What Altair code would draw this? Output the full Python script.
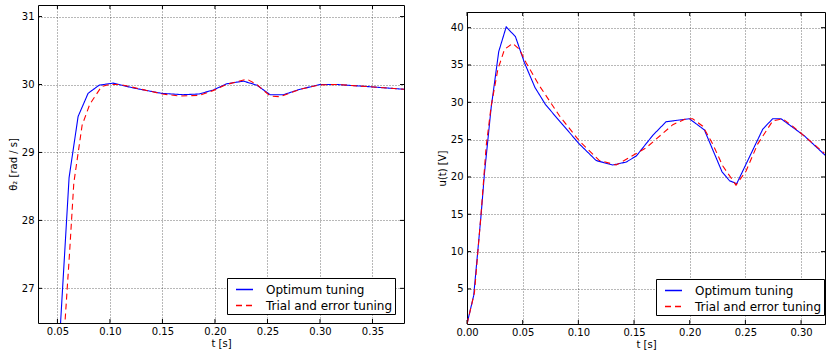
import altair as alt
import pandas as pd

series = ["Optimum tuning", "Trial and error tuning"]

# ---- left panel: theta_2 ----
left_t_opt = [0.0515, 0.0611, 0.0697, 0.0792, 0.0897, 0.103, 0.122, 0.149, 0.1698, 0.185,
              0.1985, 0.2112, 0.2271, 0.2334, 0.2399, 0.2525, 0.2652, 0.2811, 0.3002, 0.3162,
              0.3448, 0.380]
left_v_opt = [26.1, 28.63, 29.53, 29.87, 29.99, 30.02, 29.95, 29.87, 29.85, 29.86,
              29.92, 30.01, 30.05, 30.02, 29.99, 29.85, 29.85, 29.93, 30.0, 30.0,
              29.97, 29.93]
left_t_trial = [0.0555, 0.0617, 0.0656, 0.0735, 0.0808, 0.092, 0.0999, 0.110, 0.130, 0.150,
                0.1667, 0.185, 0.198, 0.2112, 0.2303, 0.2399, 0.2525, 0.2621, 0.2811, 0.3002,
                0.3162, 0.3448, 0.380]
left_v_trial = [26.1, 27.56, 28.55, 29.4, 29.71, 29.97, 30.0, 30.0, 29.93, 29.86,
                29.83, 29.84, 29.91, 30.0, 30.08, 30.0, 29.83, 29.82, 29.93, 29.995,
                30.0, 29.97, 29.93]
left_xticks = [0.05, 0.10, 0.15, 0.20, 0.25, 0.30, 0.35]
left_yticks = [27, 28, 29, 30, 31]

# ---- right panel: u(t) ----
right_t_opt = [0.0, 0.006, 0.0097, 0.0127, 0.0157, 0.0217, 0.0285, 0.0352, 0.0435, 0.0516,
               0.061, 0.0705, 0.083, 0.101, 0.116, 0.131, 0.143, 0.152, 0.167, 0.1788,
               0.1997, 0.2132, 0.229, 0.2357, 0.2422, 0.2656, 0.2745, 0.282, 0.303, 0.3224]
right_v_opt = [0.3, 4.1, 10.1, 15.0, 20.5, 29.3, 36.8, 40.1, 38.8, 35.3,
               32.0, 29.7, 27.5, 24.4, 22.2, 21.6, 22.0, 22.8, 25.6, 27.4,
               27.8, 26.3, 20.7, 19.5, 19.1, 26.4, 27.8, 27.8, 25.5, 22.8]
right_t_trial = [0.0, 0.0067, 0.0127, 0.0172, 0.0217, 0.0277, 0.0337, 0.0411, 0.0471, 0.0531,
                 0.0651, 0.083, 0.101, 0.1189, 0.134, 0.1608, 0.1848, 0.1967, 0.2027, 0.2117,
                 0.2207, 0.2296, 0.2416, 0.2506, 0.261, 0.2745, 0.2835, 0.2924, 0.3209]
right_v_trial = [0.3, 4.5, 15.2, 24.1, 29.5, 34.4, 37.1, 37.9, 37.1, 35.3,
                 32.2, 28.2, 24.8, 22.2, 21.6, 23.9, 27.0, 27.8, 27.8, 26.8,
                 24.4, 21.5, 18.9, 20.8, 24.4, 27.5, 27.8, 26.8, 23.2]
right_xticks = [0.00, 0.05, 0.10, 0.15, 0.20, 0.25, 0.30]
right_yticks = [5, 10, 15, 20, 25, 30, 35, 40]

FONT = "DejaVu Sans"


def make_df(t1, v1, t2, v2):
    return pd.DataFrame({
        "t": t1 + t2,
        "v": v1 + v2,
        "series": [series[0]] * len(t1) + [series[1]] * len(t2),
    })


def panel(df, xdom, ydom, xticks, yticks, xfmt, ytitle, W, H, lx, ly):
    xs = alt.Scale(domain=xdom, nice=False, zero=False)
    ys = alt.Scale(domain=ydom, nice=False, zero=False)
    xax = alt.Axis(values=xticks, format=xfmt, title="t [s]")
    yax = alt.Axis(values=yticks, format="d", title=ytitle)
    leg = alt.Legend(
        orient="none", legendX=lx, legendY=ly, title=None,
        symbolType="stroke", symbolSize=289, symbolStrokeWidth=1.5,
        symbolOffset=6, labelOffset=12, labelFont=FONT, labelFontSize=12,
        labelColor="black", padding=2, strokeColor="black", fillColor="white",
        rowPadding=0, labelLimit=400, cornerRadius=0,
    )
    lines = alt.Chart(df).mark_line(clip=True, strokeWidth=1.1).encode(
        x=alt.X("t:Q", scale=xs, axis=xax),
        y=alt.Y("v:Q", scale=ys, axis=yax),
        color=alt.Color("series:N", scale=alt.Scale(domain=series, range=["#0000ff", "#ff0000"]), legend=leg),
        strokeDash=alt.StrokeDash("series:N", scale=alt.Scale(domain=series, range=[[1, 0], [6, 4]]), legend=leg),
        order=alt.Order("t:Q"),
    )
    xt = pd.DataFrame({"t": xticks})
    yt = pd.DataFrame({"v": yticks})
    xb = alt.Chart(xt).mark_rule(color="black", strokeWidth=1).encode(
        x=alt.X("t:Q", scale=xs, axis=xax), y=alt.value(H), y2=alt.value(H - 4))
    xtop = alt.Chart(xt).mark_rule(color="black", strokeWidth=1).encode(
        x=alt.X("t:Q", scale=xs, axis=xax), y=alt.value(0), y2=alt.value(4))
    yl = alt.Chart(yt).mark_rule(color="black", strokeWidth=1).encode(
        y=alt.Y("v:Q", scale=ys, axis=yax), x=alt.value(0), x2=alt.value(4))
    yr = alt.Chart(yt).mark_rule(color="black", strokeWidth=1).encode(
        y=alt.Y("v:Q", scale=ys, axis=yax), x=alt.value(W - 4), x2=alt.value(W))
    return alt.layer(lines, xb, xtop, yl, yr).properties(width=W, height=H)


left = panel(make_df(left_t_opt, left_v_opt, left_t_trial, left_v_trial),
             [0.0315, 0.380], [26.49, 31.17], left_xticks, left_yticks, ".2f",
             "θ₂ [rad / s]", 366, 318, 189, 273)
right = panel(make_df(right_t_opt, right_v_opt, right_t_trial, right_v_trial),
              [0.0, 0.3215], [0.3, 42.1], right_xticks, right_yticks, ".2f",
              "u(t) [V]", 358, 312, 189, 267)

# empty strip that drops the right panel slightly lower than the left one
blank = alt.Chart(pd.DataFrame({"t": [0]})).mark_rule(color="white", strokeWidth=1).encode(
    x=alt.value(1), x2=alt.value(2), y=alt.value(0)
).properties(width=358, height=1, view=alt.ViewBackground(stroke="transparent"))

right_col = alt.vconcat(blank, right, spacing=4).resolve_legend(
    color="independent", strokeDash="independent")

chart = alt.hconcat(left, right_col, spacing=31).resolve_legend(
    color="independent", strokeDash="independent"
).properties(
    padding={"left": 7, "top": 4, "right": 0, "bottom": 0}
).configure_view(
    stroke="black", strokeWidth=1
).configure_axis(
    domain=False, ticks=False, tickSize=0, labelFlush=False,
    labelFont=FONT, labelFontSize=10, labelColor="black", labelPadding=4,
    titleFont=FONT, titleFontSize=10, titleColor="black", titleFontWeight="normal",
    titlePadding=3,
    grid=True, gridColor="black", gridDash=[1, 2], gridWidth=0.8, gridOpacity=0.7,
).configure_axisX(labelPadding=3, titlePadding=2)

chart.save("out.html", embed_options={"renderer": "svg", "actions": False})
